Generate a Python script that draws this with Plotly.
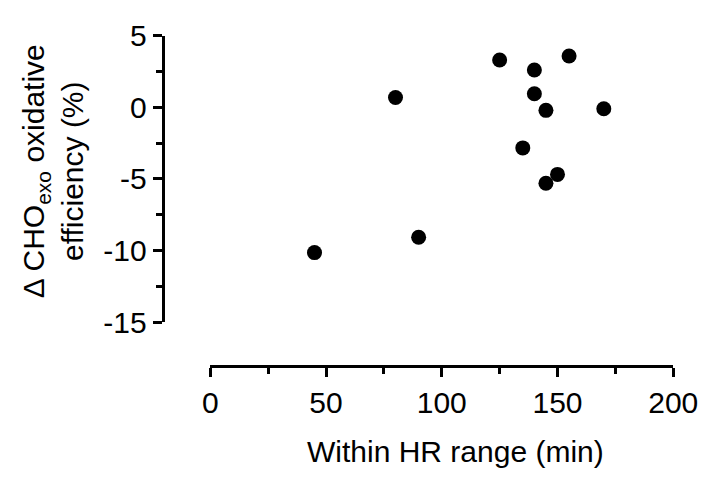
import plotly.graph_objects as go

# Data
within_hr_min = [45, 80, 90, 125, 135, 140, 140, 145, 145, 150, 155, 170]
delta_cho_eff = [-10.15, 0.68, -9.08, 3.30, -2.84, 2.60, 0.94, -0.22, -5.31, -4.69, 3.58, -0.11]

x_tickvals = [0, 50, 100, 150, 200]
x_ticktext = ["0", "50", "100", "150", "200"]
y_tickvals = [-15, -10, -5, 0, 5]
y_ticktext = ["-15", "-10", "-5", "0", "5"]

W, H = 724, 486
FONT = "Liberation Sans, Arial, sans-serif"
FS = 30

fig = go.Figure(
    go.Scatter(
        x=within_hr_min, y=delta_cho_eff, mode="markers",
        marker=dict(color="black", size=15, line=dict(width=0)),
        showlegend=False,
    )
)

axis_common = dict(
    showline=True, linecolor="black", linewidth=3,
    ticks="outside", ticklen=9, tickwidth=3, tickcolor="black",
    showgrid=False, zeroline=False,
    tickfont=dict(family=FONT, size=FS, color="black"),
    ticklabeloverflow="allow",
    anchor="free",
)

fig.update_layout(
    width=W, height=H,
    margin=dict(l=0, r=0, t=0, b=0),
    paper_bgcolor="white", plot_bgcolor="white",
    font=dict(family=FONT, color="black"),
    xaxis=dict(
        **axis_common,
        range=[0, 200], domain=[212 / W, 697 / W],
        position=1 - 375 / H,
        tickvals=x_tickvals, ticktext=x_ticktext,
        minor=dict(dtick=25, tick0=0, ticks="outside", ticklen=6, tickwidth=3, tickcolor="black"),
    ),
    yaxis=dict(
        **axis_common,
        range=[-15, 5], domain=[1 - 328 / H, 1 - 20 / H],
        position=162 / W,
        tickvals=y_tickvals, ticktext=y_ticktext,
        minor=dict(dtick=2.5, tick0=0, ticks="outside", ticklen=6, tickwidth=3, tickcolor="black"),
    ),
    annotations=[
        dict(
            text="Within HR range (min)", x=469 / W, y=1 - 467 / H,
            xref="paper", yref="paper", showarrow=False,
            xanchor="center", yanchor="middle",
            font=dict(family=FONT, size=FS, color="black"),
        ),
        dict(
            text="\u0394 CHO<sub>exo</sub> oxidative<br>efficiency (%)",
            x=48 / W, y=1 - 166 / H,
            xref="paper", yref="paper", showarrow=False,
            xanchor="center", yanchor="middle", textangle=-90,
            font=dict(family=FONT, size=FS, color="black"),
        ),
    ],
)

fig.write_html("out.html")
